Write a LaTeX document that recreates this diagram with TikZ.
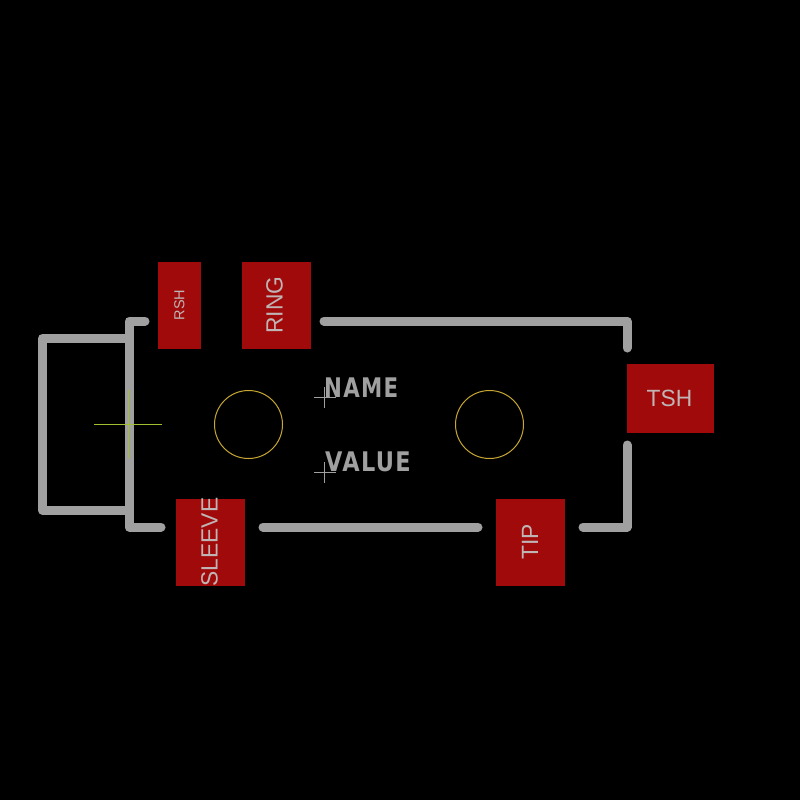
\documentclass[tikz,border=0pt]{standalone}
\usepackage{fontspec}
\setmainfont{Liberation Sans}
\newfontfamily\thickfont[LetterSpace=6]{DejaVu Sans Bold}
\definecolor{padred}{HTML}{A00A0A}
\definecolor{silk}{HTML}{A0A0A0}
\definecolor{padtext}{HTML}{C0B4B4}
\definecolor{hole}{HTML}{C8A832}
\definecolor{origin}{HTML}{A0C030}
\tikzset{
  pad/.style={fill=padred,draw=none},
  silkline/.style={draw=silk,line width=9pt,line cap=round,line join=round},
  padlabel/.style={text=padtext,inner sep=0pt,font=\fontsize{#1}{#1}\selectfont},
  thicklabel/.style={text=silk,inner sep=0pt,anchor=base west,font=\thickfont\fontsize{27}{27}\selectfont},
  holecircle/.style={draw=hole,line width=1pt},
  originmark/.style={draw=origin,line width=1pt},
  refmark/.style={draw=silk,line width=1pt}
}
\begin{document}
\begin{tikzpicture}[x=1pt,y=-1pt]
\useasboundingbox[fill=black] (0,0) rectangle (800,800);
% outline
\draw[silkline] (145,321) -- (129,321) -- (129,527) -- (161,527);
\draw[silkline] (129,338.5) -- (42.5,338.5) -- (42.5,510) -- (129,510);
\draw[silkline] (263,527) -- (478,527);
\draw[silkline] (583,527) -- (627,527) -- (627,445);
\draw[silkline] (324,321) -- (627,321) -- (627,348);
% pads
\fill[pad] (158,262) rectangle (201,349);
\fill[pad] (242,262) rectangle (311,349);
\fill[pad] (627,364) rectangle (714,433);
\fill[pad] (176,499) rectangle (245,586);
\fill[pad] (496,499) rectangle (565,586);
\node[padlabel=14.5,rotate=90] (rsh) at (179.5,305) {RSH};
\node[padlabel=23.5,rotate=90,xscale=.97] (ring) at (274.5,305) {RING};
\node[padlabel=23.5,xscale=.97] (tsh) at (669.5,398) {TSH};
\node[padlabel=23.5,rotate=90,xscale=.97] (sleeve) at (209.5,542) {SLEEVE};
\node[padlabel=23.5,rotate=90,xscale=.97] (tip) at (530,542) {TIP};
% holes
\draw[holecircle] (248.5,424.5) circle (34);
\draw[holecircle] (489.5,424.5) circle (34);
% origin marks
\draw[originmark] (94,424) -- (162,424);
\draw[originmark] (128.5,390) -- (128.5,458);
\draw[refmark] (314,397) -- (336,397);
\draw[refmark] (324,387) -- (324,408);
\draw[refmark] (314,472) -- (336,472);
\draw[refmark] (324,462) -- (324,483);
% value labels
\node[thicklabel,xscale=.79] (name) at (324,397) {NAME};
\node[thicklabel,xscale=.83] (value) at (325,471) {VALUE};
\end{tikzpicture}
\end{document}
